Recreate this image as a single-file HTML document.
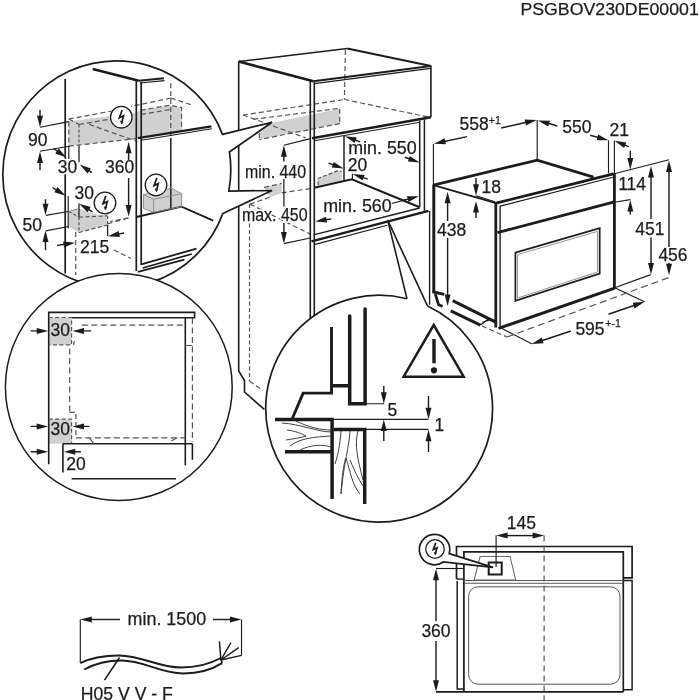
<!DOCTYPE html>
<html><head><meta charset="utf-8"><title>PSGBOV230DE00001</title>
<style>html,body{margin:0;padding:0;background:#fff}svg{display:block;filter:grayscale(1)}text{stroke:#1c1c1c;stroke-width:0.25px}</style>
</head><body>
<svg width="699" height="700" viewBox="0 0 699 700" font-family="'Liberation Sans', Arial, Helvetica, sans-serif" fill="#1c1c1c">
<rect width="699" height="700" fill="#fff"/>
<defs>
<clipPath id="clipA"><circle cx="116.4" cy="174" r="113"/></clipPath>
<clipPath id="clipB"><circle cx="118.8" cy="387" r="113"/></clipPath>
<clipPath id="clipC"><circle cx="379.3" cy="408.7" r="113"/></clipPath>
</defs>
<text x="520.4" y="14.8" font-size="16.9" text-anchor="start" textLength="178.4" lengthAdjust="spacingAndGlyphs" >PSGBOV230DE00001</text>
<g id="cabinet">
<polygon points="259.3,139.6 259.3,133.0 273.6,122.4 339.7,108.7 339.7,123.6" fill="#d0d0d0" stroke="none" stroke-width="1"/>
<polygon points="264.1,187.4 281.7,183.5 281.7,192.9 270.0,197.2" fill="#d0d0d0" stroke="none" stroke-width="1"/>
<polygon points="318.2,178.3 338.3,170.6 341.7,171.5 341.7,180.9 318.2,185.2" fill="#d0d0d0" stroke="none" stroke-width="1"/>
<line x1="243.0" y1="115.0" x2="344.5" y2="99.5" stroke="#555" stroke-width="1.2" stroke-linecap="butt" stroke-dasharray="5 3"/>
<line x1="243.0" y1="115.0" x2="305.7" y2="137.9" stroke="#555" stroke-width="1.2" stroke-linecap="butt" stroke-dasharray="5 3"/>
<line x1="253.3" y1="119.3" x2="339.7" y2="108.3" stroke="#555" stroke-width="1.2" stroke-linecap="butt" stroke-dasharray="5 3"/>
<line x1="339.7" y1="108.7" x2="339.7" y2="123.6" stroke="#555" stroke-width="1.2" stroke-linecap="butt" stroke-dasharray="5 3"/>
<line x1="339.7" y1="123.6" x2="259.3" y2="139.6" stroke="#555" stroke-width="1.2" stroke-linecap="butt" stroke-dasharray="5 3"/>
<line x1="259.3" y1="133.0" x2="259.3" y2="139.6" stroke="#555" stroke-width="1.2" stroke-linecap="butt" stroke-dasharray="5 3"/>
<line x1="345.4" y1="50.0" x2="344.4" y2="99.5" stroke="#555" stroke-width="1.2" stroke-linecap="butt" stroke-dasharray="5 3"/>
<line x1="344.5" y1="99.5" x2="429.0" y2="117.2" stroke="#555" stroke-width="1.2" stroke-linecap="butt" stroke-dasharray="5 3"/>
<line x1="281.7" y1="192.9" x2="310.3" y2="188.6" stroke="#555" stroke-width="1.2" stroke-linecap="butt" stroke-dasharray="5 3"/>
<line x1="249.9" y1="204.1" x2="310.3" y2="234.1" stroke="#555" stroke-width="1.2" stroke-linecap="butt" stroke-dasharray="5 3"/>
<line x1="249.9" y1="204.1" x2="270.0" y2="197.2" stroke="#555" stroke-width="1.2" stroke-linecap="butt" stroke-dasharray="5 3"/>
<line x1="264.1" y1="187.4" x2="281.7" y2="183.5" stroke="#555" stroke-width="1.2" stroke-linecap="butt" stroke-dasharray="5 3"/>
<line x1="249.5" y1="204.0" x2="249.5" y2="381.0" stroke="#555" stroke-width="1.2" stroke-linecap="butt" stroke-dasharray="4 2.5"/>
<line x1="249.5" y1="381.0" x2="262.8" y2="390.5" stroke="#555" stroke-width="1.2" stroke-linecap="butt" stroke-dasharray="5 3"/>
<path d="M318.2,185.2 V178.3 L338.3,170.6 L341.7,171.5" stroke="#555" stroke-width="1.2" fill="none" stroke-linejoin="miter" stroke-linecap="butt" stroke-dasharray="4 2"/>
<path d="M238.7,61.5 V371 L244.5,380.5 V392 L264.3,409.4" stroke="#1c1c1c" stroke-width="1.59" fill="none" stroke-linejoin="miter" stroke-linecap="butt"/>
<line x1="238.7" y1="61.5" x2="313.4" y2="81.2" stroke="#1c1c1c" stroke-width="2.6" stroke-linecap="butt"/>
<line x1="238.7" y1="61.5" x2="347.2" y2="48.4" stroke="#1c1c1c" stroke-width="1.48" stroke-linecap="butt"/>
<line x1="347.2" y1="48.4" x2="430.9" y2="66.0" stroke="#1c1c1c" stroke-width="2.0" stroke-linecap="butt"/>
<line x1="313.4" y1="81.2" x2="430.9" y2="66.0" stroke="#1c1c1c" stroke-width="2.0" stroke-linecap="butt"/>
<line x1="314.5" y1="83.6" x2="430.5" y2="68.4" stroke="#1c1c1c" stroke-width="1.15" stroke-linecap="butt"/>
<line x1="310.3" y1="80.5" x2="310.3" y2="330.0" stroke="#1c1c1c" stroke-width="1.59" stroke-linecap="butt"/>
<line x1="314.3" y1="82.0" x2="314.3" y2="330.0" stroke="#1c1c1c" stroke-width="1.59" stroke-linecap="butt"/>
<line x1="430.9" y1="65.5" x2="430.9" y2="117.2" stroke="#1c1c1c" stroke-width="1.59" stroke-linecap="butt"/>
<line x1="312.0" y1="138.2" x2="430.9" y2="117.2" stroke="#1c1c1c" stroke-width="2.4" stroke-linecap="butt"/>
<line x1="314.3" y1="140.8" x2="420.0" y2="122.2" stroke="#1c1c1c" stroke-width="1.15" stroke-linecap="butt"/>
<line x1="419.7" y1="120.5" x2="419.7" y2="207.2" stroke="#1c1c1c" stroke-width="1.48" stroke-linecap="butt"/>
<line x1="424.4" y1="119.5" x2="424.4" y2="211.0" stroke="#1c1c1c" stroke-width="1.48" stroke-linecap="butt"/>
<line x1="344.0" y1="135.8" x2="344.0" y2="180.2" stroke="#1c1c1c" stroke-width="1.48" stroke-linecap="butt"/>
<path d="M314.3,187.7 L351.8,179.3 L419.7,207.2" stroke="#1c1c1c" stroke-width="2.03" fill="none" stroke-linejoin="miter" stroke-linecap="butt"/>
<line x1="352.4" y1="173.7" x2="352.4" y2="179.3" stroke="#1c1c1c" stroke-width="1.15" stroke-linecap="butt"/>
<line x1="314.5" y1="234.6" x2="419.7" y2="208.0" stroke="#1c1c1c" stroke-width="1.48" stroke-linecap="butt"/>
<line x1="311.5" y1="241.4" x2="428.5" y2="210.9" stroke="#1c1c1c" stroke-width="2.4" stroke-linecap="butt"/>
<line x1="314.3" y1="244.6" x2="387.2" y2="225.2" stroke="#1c1c1c" stroke-width="1.15" stroke-linecap="butt"/>
<line x1="429.6" y1="211.0" x2="429.6" y2="304.8" stroke="#1c1c1c" stroke-width="1.37" stroke-linecap="butt"/>
<line x1="283.9" y1="145.2" x2="310.3" y2="138.6" stroke="#1c1c1c" stroke-width="1.15" stroke-linecap="butt"/>
<line x1="283.9" y1="243.6" x2="310.3" y2="238.0" stroke="#1c1c1c" stroke-width="1.15" stroke-linecap="butt"/>
<line x1="283.9" y1="161.5" x2="283.9" y2="155.7" stroke="#1c1c1c" stroke-width="1.43" stroke-linecap="butt"/>
<polygon points="283.9,145.2 286.9,156.7 280.9,156.7" fill="#1c1c1c" stroke="none" stroke-width="1"/>
<line x1="283.9" y1="179.0" x2="283.9" y2="206.6" stroke="#1c1c1c" stroke-width="1.26" stroke-linecap="butt"/>
<line x1="283.9" y1="223.0" x2="283.9" y2="233.1" stroke="#1c1c1c" stroke-width="1.43" stroke-linecap="butt"/>
<polygon points="283.9,243.6 280.9,232.1 286.9,232.1" fill="#1c1c1c" stroke="none" stroke-width="1"/>
<text x="245.0" y="177.5" font-size="17.5" text-anchor="start" textLength="61" lengthAdjust="spacingAndGlyphs" >min. 440</text>
<text x="242.0" y="220.7" font-size="17.5" text-anchor="start" textLength="65.5" lengthAdjust="spacingAndGlyphs" style="stroke:#fff;stroke-width:3.5px;stroke-linejoin:round" fill="#fff" >max. 450</text>
<text x="242.0" y="220.7" font-size="17.5" text-anchor="start" textLength="65.5" lengthAdjust="spacingAndGlyphs" >max. 450</text>
<text x="348.2" y="153.6" font-size="17.5" text-anchor="start" textLength="68.5" lengthAdjust="spacingAndGlyphs" >min. 550</text>
<text x="347.8" y="170.6" font-size="17.5" text-anchor="start" >20</text>
<text x="323.2" y="211.8" font-size="17.5" text-anchor="start" textLength="68.5" lengthAdjust="spacingAndGlyphs" style="stroke:#fff;stroke-width:3.5px;stroke-linejoin:round" fill="#fff" >min. 560</text>
<text x="323.2" y="211.8" font-size="17.5" text-anchor="start" textLength="68.5" lengthAdjust="spacingAndGlyphs" >min. 560</text>
<line x1="360.2" y1="141.9" x2="354.8" y2="139.9" stroke="#1c1c1c" stroke-width="1.43" stroke-linecap="butt"/>
<polygon points="345.0,136.2 356.8,137.4 354.7,143.0" fill="#1c1c1c" stroke="none" stroke-width="1"/>
<line x1="404.8" y1="157.3" x2="409.8" y2="159.0" stroke="#1c1c1c" stroke-width="1.43" stroke-linecap="butt"/>
<polygon points="419.7,162.5 407.9,161.5 409.8,155.9" fill="#1c1c1c" stroke="none" stroke-width="1"/>
<line x1="328.6" y1="163.2" x2="333.7" y2="165.0" stroke="#1c1c1c" stroke-width="1.43" stroke-linecap="butt"/>
<polygon points="343.6,168.6 331.8,167.5 333.8,161.9" fill="#1c1c1c" stroke="none" stroke-width="1"/>
<line x1="367.7" y1="179.2" x2="362.7" y2="177.4" stroke="#1c1c1c" stroke-width="1.43" stroke-linecap="butt"/>
<polygon points="352.8,173.9 364.6,174.9 362.6,180.6" fill="#1c1c1c" stroke="none" stroke-width="1"/>
<line x1="331.4" y1="218.9" x2="325.6" y2="219.8" stroke="#1c1c1c" stroke-width="1.43" stroke-linecap="butt"/>
<polygon points="315.2,221.5 326.1,216.7 327.0,222.6" fill="#1c1c1c" stroke="none" stroke-width="1"/>
<line x1="391.8" y1="203.5" x2="406.0" y2="199.6" stroke="#1c1c1c" stroke-width="1.15" stroke-linecap="butt"/>
<line x1="404.0" y1="200.2" x2="408.7" y2="198.9" stroke="#1c1c1c" stroke-width="1.43" stroke-linecap="butt"/>
<polygon points="418.8,196.2 408.5,202.1 406.9,196.3" fill="#1c1c1c" stroke="none" stroke-width="1"/>
<line x1="387.7" y1="220.2" x2="407.0" y2="298.7" stroke="#1c1c1c" stroke-width="1.59" stroke-linecap="butt"/>
<line x1="387.7" y1="220.2" x2="427.6" y2="306.1" stroke="#1c1c1c" stroke-width="1.59" stroke-linecap="butt"/>
</g>
<circle cx="116.4" cy="174" r="113.5" fill="#fff" stroke="none"/>
<g clip-path="url(#clipA)">
<polygon points="68.8,121.4 136.0,112.5 140.7,110.2 169.5,105.2 181.6,107.4 181.6,131.2 140.7,137.7 136.0,138.6 68.8,146.2" fill="#d0d0d0" stroke="none" stroke-width="1"/>
<polygon points="69.0,211.5 79.0,208.5 95.0,214.5 107.6,215.5 107.6,225.0 79.0,232.6 69.0,227.0" fill="#d0d0d0" stroke="none" stroke-width="1"/>
<polygon points="143.5,194.6 171.4,188.1 181.6,193.7 181.6,206.7 153.7,212.3 143.5,208.6" fill="#d0d0d0" stroke="none" stroke-width="1"/>
<line x1="68.8" y1="119.0" x2="112.0" y2="111.0" stroke="#555" stroke-width="1.2" stroke-linecap="butt" stroke-dasharray="5 3"/>
<line x1="79.0" y1="124.5" x2="111.0" y2="119.0" stroke="#555" stroke-width="1.2" stroke-linecap="butt" stroke-dasharray="5 3"/>
<line x1="89.2" y1="124.5" x2="136.0" y2="141.0" stroke="#555" stroke-width="1.2" stroke-linecap="butt" stroke-dasharray="5 3"/>
<line x1="68.8" y1="121.4" x2="68.8" y2="146.2" stroke="#555" stroke-width="1.2" stroke-linecap="butt" stroke-dasharray="5 3"/>
<line x1="68.8" y1="146.2" x2="136.0" y2="138.6" stroke="#555" stroke-width="1.2" stroke-linecap="butt" stroke-dasharray="5 3"/>
<line x1="68.8" y1="119.0" x2="79.0" y2="124.5" stroke="#555" stroke-width="1.2" stroke-linecap="butt" stroke-dasharray="5 3"/>
<line x1="170.8" y1="83.0" x2="170.8" y2="136.0" stroke="#555" stroke-width="1.2" stroke-linecap="butt" stroke-dasharray="5 3"/>
<line x1="170.8" y1="98.0" x2="193.7" y2="105.6" stroke="#555" stroke-width="1.2" stroke-linecap="butt" stroke-dasharray="5 3"/>
<line x1="170.8" y1="98.0" x2="131.0" y2="106.5" stroke="#555" stroke-width="1.2" stroke-linecap="butt" stroke-dasharray="5 3"/>
<path d="M140.7,110.2 L169.5,105.2 L181.6,107.4 V131.2" stroke="#555" stroke-width="1.2" fill="none" stroke-linejoin="miter" stroke-linecap="butt" stroke-dasharray="5 3"/>
<line x1="141.0" y1="114.5" x2="170.8" y2="109.5" stroke="#555" stroke-width="1.2" stroke-linecap="butt" stroke-dasharray="5 3"/>
<line x1="107.6" y1="223.8" x2="128.6" y2="218.0" stroke="#555" stroke-width="1.2" stroke-linecap="butt" stroke-dasharray="5 3"/>
<line x1="75.7" y1="232.0" x2="75.7" y2="275.0" stroke="#555" stroke-width="1.2" stroke-linecap="butt" stroke-dasharray="5 3"/>
<line x1="114.0" y1="250.0" x2="131.0" y2="258.5" stroke="#555" stroke-width="1.2" stroke-linecap="butt" stroke-dasharray="5 3"/>
<line x1="92.7" y1="69.1" x2="138.8" y2="80.8" stroke="#1c1c1c" stroke-width="2.6" stroke-linecap="butt"/>
<line x1="138.8" y1="80.8" x2="164.0" y2="78.2" stroke="#1c1c1c" stroke-width="2.0" stroke-linecap="butt"/>
<line x1="140.0" y1="83.0" x2="164.5" y2="80.6" stroke="#1c1c1c" stroke-width="1.15" stroke-linecap="butt"/>
<line x1="136.3" y1="80.5" x2="136.3" y2="271.0" stroke="#1c1c1c" stroke-width="1.7" stroke-linecap="butt"/>
<line x1="141.2" y1="82.0" x2="141.2" y2="265.0" stroke="#1c1c1c" stroke-width="1.7" stroke-linecap="butt"/>
<line x1="65.2" y1="78.9" x2="65.2" y2="273.4" stroke="#1c1c1c" stroke-width="1.7" stroke-linecap="butt"/>
<line x1="137.9" y1="138.1" x2="211.4" y2="126.4" stroke="#1c1c1c" stroke-width="2.4" stroke-linecap="butt"/>
<line x1="141.2" y1="140.3" x2="211.8" y2="128.8" stroke="#1c1c1c" stroke-width="1.15" stroke-linecap="butt"/>
<line x1="170.8" y1="138.0" x2="170.8" y2="209.5" stroke="#1c1c1c" stroke-width="1.48" stroke-linecap="butt"/>
<path d="M136.3,217 L181.6,206.7 L213.2,220.7" stroke="#1c1c1c" stroke-width="1.81" fill="none" stroke-linejoin="miter" stroke-linecap="butt"/>
<line x1="141.2" y1="264.4" x2="196.5" y2="248.6" stroke="#1c1c1c" stroke-width="1.81" stroke-linecap="butt"/>
<line x1="142.7" y1="268.0" x2="191.8" y2="254.0" stroke="#1c1c1c" stroke-width="1.81" stroke-linecap="butt"/>
<line x1="137.9" y1="271.8" x2="184.4" y2="259.7" stroke="#1c1c1c" stroke-width="1.81" stroke-linecap="butt"/>
<path d="M143.5,194.6 L153.7,199.3 L181.6,193.7 M153.7,199.3 V212.3 M143.5,194.6 V208.6 L153.7,212.3 L181.6,206.7 M143.5,194.6 L171.4,188.1 L181.6,193.7 V206.7" stroke="#8a8a8a" stroke-width="0.93" fill="none" stroke-linejoin="miter" stroke-linecap="butt"/>
<line x1="40.0" y1="127.3" x2="68.8" y2="121.6" stroke="#1c1c1c" stroke-width="1.15" stroke-linecap="butt"/>
<line x1="40.0" y1="151.3" x2="69.6" y2="146.2" stroke="#1c1c1c" stroke-width="1.15" stroke-linecap="butt"/>
<line x1="40.0" y1="110.0" x2="40.0" y2="116.8" stroke="#1c1c1c" stroke-width="1.43" stroke-linecap="butt"/>
<polygon points="40.0,127.3 37.0,115.8 43.0,115.8" fill="#1c1c1c" stroke="none" stroke-width="1"/>
<line x1="40.0" y1="170.0" x2="40.0" y2="162.0" stroke="#1c1c1c" stroke-width="1.43" stroke-linecap="butt"/>
<polygon points="40.0,151.5 43.0,163.0 37.0,163.0" fill="#1c1c1c" stroke="none" stroke-width="1"/>
<text x="28.0" y="145.8" font-size="17.5" text-anchor="start" >90</text>
<line x1="68.8" y1="146.2" x2="68.8" y2="159.0" stroke="#1c1c1c" stroke-width="1.15" stroke-linecap="butt"/>
<line x1="79.0" y1="124.5" x2="79.0" y2="146.0" stroke="#555" stroke-width="1.2" stroke-linecap="butt" stroke-dasharray="3 2"/>
<line x1="79.0" y1="146.0" x2="79.0" y2="162.3" stroke="#1c1c1c" stroke-width="1.26" stroke-linecap="butt"/>
<line x1="53.5" y1="148.5" x2="57.8" y2="151.5" stroke="#1c1c1c" stroke-width="1.43" stroke-linecap="butt"/>
<polygon points="66.4,157.6 55.3,153.4 58.7,148.5" fill="#1c1c1c" stroke="none" stroke-width="1"/>
<line x1="91.8" y1="172.6" x2="88.5" y2="170.4" stroke="#1c1c1c" stroke-width="1.43" stroke-linecap="butt"/>
<polygon points="79.7,164.6 90.9,168.4 87.6,173.4" fill="#1c1c1c" stroke="none" stroke-width="1"/>
<text x="57.8" y="173.4" font-size="17.5" text-anchor="start" style="stroke:#fff;stroke-width:3.5px;stroke-linejoin:round" fill="#fff" >30</text>
<text x="57.8" y="173.4" font-size="17.5" text-anchor="start" >30</text>
<line x1="128.6" y1="160.0" x2="128.6" y2="152.3" stroke="#1c1c1c" stroke-width="1.43" stroke-linecap="butt"/>
<polygon points="128.6,141.8 131.6,153.3 125.6,153.3" fill="#1c1c1c" stroke="none" stroke-width="1"/>
<line x1="128.6" y1="178.0" x2="128.6" y2="206.1" stroke="#1c1c1c" stroke-width="1.43" stroke-linecap="butt"/>
<polygon points="128.6,216.6 125.6,205.1 131.6,205.1" fill="#1c1c1c" stroke="none" stroke-width="1"/>
<text x="105.0" y="173.4" font-size="17.5" text-anchor="start" >360</text>
<line x1="128.6" y1="217.9" x2="110.0" y2="221.6" stroke="#555" stroke-width="1.2" stroke-linecap="butt" stroke-dasharray="5 3"/>
<line x1="68.2" y1="196.0" x2="68.2" y2="228.5" stroke="#1c1c1c" stroke-width="1.15" stroke-linecap="butt"/>
<line x1="79.0" y1="203.5" x2="79.0" y2="217.2" stroke="#1c1c1c" stroke-width="1.26" stroke-linecap="butt"/>
<line x1="79.0" y1="217.2" x2="79.0" y2="232.5" stroke="#555" stroke-width="1.2" stroke-linecap="butt" stroke-dasharray="3 2"/>
<line x1="79.0" y1="217.2" x2="107.6" y2="215.8" stroke="#555" stroke-width="1.2" stroke-linecap="butt" stroke-dasharray="4 2.5"/>
<line x1="79.0" y1="232.5" x2="107.6" y2="225.0" stroke="#555" stroke-width="1.2" stroke-linecap="butt" stroke-dasharray="4 2.5"/>
<line x1="69.0" y1="211.5" x2="79.0" y2="217.2" stroke="#555" stroke-width="1.2" stroke-linecap="butt" stroke-dasharray="3 2"/>
<line x1="69.0" y1="211.5" x2="79.0" y2="208.5" stroke="#888" stroke-width="0.93" stroke-linecap="butt"/>
<line x1="45.8" y1="215.4" x2="68.2" y2="211.5" stroke="#1c1c1c" stroke-width="1.26" stroke-linecap="butt"/>
<line x1="45.8" y1="230.9" x2="68.2" y2="226.5" stroke="#1c1c1c" stroke-width="1.26" stroke-linecap="butt"/>
<line x1="45.5" y1="199.3" x2="45.5" y2="204.7" stroke="#1c1c1c" stroke-width="1.43" stroke-linecap="butt"/>
<polygon points="45.5,215.2 42.5,203.7 48.5,203.7" fill="#1c1c1c" stroke="none" stroke-width="1"/>
<line x1="45.5" y1="250.2" x2="45.5" y2="241.0" stroke="#1c1c1c" stroke-width="1.43" stroke-linecap="butt"/>
<polygon points="45.5,230.5 48.5,242.0 42.5,242.0" fill="#1c1c1c" stroke="none" stroke-width="1"/>
<text x="22.6" y="230.8" font-size="17.5" text-anchor="start" >50</text>
<line x1="52.5" y1="187.5" x2="56.7" y2="190.2" stroke="#1c1c1c" stroke-width="1.43" stroke-linecap="butt"/>
<polygon points="65.6,195.8 54.3,192.2 57.5,187.1" fill="#1c1c1c" stroke="none" stroke-width="1"/>
<line x1="92.5" y1="211.8" x2="88.2" y2="209.2" stroke="#1c1c1c" stroke-width="1.43" stroke-linecap="butt"/>
<polygon points="79.2,203.7 90.6,207.1 87.5,212.2" fill="#1c1c1c" stroke="none" stroke-width="1"/>
<text x="74.6" y="198.6" font-size="17.5" text-anchor="start" >30</text>
<line x1="107.6" y1="216.0" x2="107.6" y2="225.0" stroke="#555" stroke-width="1.2" stroke-linecap="butt" stroke-dasharray="3 2"/>
<line x1="107.6" y1="225.0" x2="107.6" y2="236.0" stroke="#1c1c1c" stroke-width="1.26" stroke-linecap="butt"/>
<line x1="57.0" y1="245.4" x2="64.6" y2="244.3" stroke="#1c1c1c" stroke-width="1.43" stroke-linecap="butt"/>
<polygon points="75.0,242.8 64.0,247.4 63.2,241.5" fill="#1c1c1c" stroke="none" stroke-width="1"/>
<line x1="124.0" y1="233.0" x2="118.3" y2="234.1" stroke="#1c1c1c" stroke-width="1.43" stroke-linecap="butt"/>
<polygon points="108.0,236.2 118.7,231.0 119.9,236.9" fill="#1c1c1c" stroke="none" stroke-width="1"/>
<text x="80.0" y="253.2" font-size="17.5" text-anchor="start" >215</text>
<circle cx="121.3" cy="117.2" r="11.700000000000001" fill="#fff" stroke="none"/>
<circle cx="121.3" cy="117.2" r="10.8" fill="#fff" stroke="#1c1c1c" stroke-width="1.3"/>
<path d="M122.19,110.07 L119.32,117.79 L123.58,115.81 L121.70,123.14" stroke="#1c1c1c" stroke-width="1.7" fill="none" stroke-linejoin="miter" stroke-linecap="butt"/>
<polygon points="121.6,124.7 120.0,120.8 123.3,121.2" fill="#1c1c1c" stroke="none" stroke-width="1"/>
<circle cx="105" cy="203" r="11.700000000000001" fill="#fff" stroke="none"/>
<circle cx="105" cy="203" r="10.8" fill="#fff" stroke="#1c1c1c" stroke-width="1.3"/>
<path d="M105.89,195.87 L103.02,203.59 L107.28,201.61 L105.40,208.94" stroke="#1c1c1c" stroke-width="1.7" fill="none" stroke-linejoin="miter" stroke-linecap="butt"/>
<polygon points="105.3,210.5 103.7,206.6 107.0,207.0" fill="#1c1c1c" stroke="none" stroke-width="1"/>
<circle cx="156" cy="185" r="11.700000000000001" fill="#fff" stroke="none"/>
<circle cx="156" cy="185" r="10.8" fill="#fff" stroke="#1c1c1c" stroke-width="1.3"/>
<path d="M156.89,177.87 L154.02,185.59 L158.28,183.61 L156.40,190.94" stroke="#1c1c1c" stroke-width="1.7" fill="none" stroke-linejoin="miter" stroke-linecap="butt"/>
<polygon points="156.3,192.5 154.7,188.6 158.0,189.0" fill="#1c1c1c" stroke="none" stroke-width="1"/>
</g>
<path d="M222.5,134.4 L272.1,122.3 L229.4,152 Q232.5,171.6 228.8,191.1 L272.1,190.5 L222.9,213.4 Z" fill="#fff" stroke="none"/>
<path d="M222.9,213.4 A113.5,113.5 0 1 1 222.5,134.4 L272.1,122.3 L229.4,152 Q232.5,171.6 228.8,191.1 L272.1,190.5 L222.9,213.4" stroke="#1c1c1c" stroke-width="1.7" fill="none" stroke-linejoin="miter" stroke-linecap="butt"/>
<circle cx="118.8" cy="387" r="113.4" fill="#fff" stroke="#1c1c1c" stroke-width="1.5"/>
<g clip-path="url(#clipB)">
<rect x="48.7" y="317.5" width="22.9" height="27.4" fill="#d0d0d0"/>
<rect x="48.7" y="419.2" width="22.9" height="24.5" fill="#d0d0d0"/>
<path d="M48.7,464.2 V312.4 H194.6 V317.8 H71.6" stroke="#1c1c1c" stroke-width="1.59" fill="none" stroke-linejoin="miter" stroke-linecap="butt"/>
<line x1="185.3" y1="317.8" x2="185.3" y2="465.3" stroke="#1c1c1c" stroke-width="1.59" stroke-linecap="butt"/>
<line x1="62.9" y1="443.8" x2="192.4" y2="443.8" stroke="#1c1c1c" stroke-width="1.59" stroke-linecap="butt"/>
<line x1="62.9" y1="443.8" x2="62.9" y2="472.5" stroke="#1c1c1c" stroke-width="1.59" stroke-linecap="butt"/>
<line x1="192.4" y1="443.8" x2="192.4" y2="459.7" stroke="#1c1c1c" stroke-width="1.59" stroke-linecap="butt"/>
<line x1="71.6" y1="478.8" x2="176.0" y2="478.8" stroke="#1c1c1c" stroke-width="1.59" stroke-linecap="butt"/>
<path d="M48.7,317.5 H71.6 V344.9 H48.7" stroke="#555" stroke-width="1.2" fill="none" stroke-linejoin="miter" stroke-linecap="butt" stroke-dasharray="4 2.5"/>
<path d="M48.7,419.2 H71.6 V443.7" stroke="#555" stroke-width="1.2" fill="none" stroke-linejoin="miter" stroke-linecap="butt" stroke-dasharray="4 2.5"/>
<line x1="81.8" y1="325.1" x2="185.3" y2="325.1" stroke="#555" stroke-width="1.2" stroke-linecap="butt" stroke-dasharray="6 3.5"/>
<line x1="69.7" y1="348.6" x2="69.7" y2="412.3" stroke="#555" stroke-width="1.2" stroke-linecap="butt" stroke-dasharray="6 3.5"/>
<path d="M69.7,412.3 H75.9 V437.8" stroke="#555" stroke-width="1.2" fill="none" stroke-linejoin="miter" stroke-linecap="butt" stroke-dasharray="5 3"/>
<line x1="75.9" y1="437.8" x2="185.3" y2="437.8" stroke="#555" stroke-width="1.2" stroke-linecap="butt" stroke-dasharray="6 3.5"/>
<line x1="192.4" y1="318.0" x2="192.4" y2="442.0" stroke="#555" stroke-width="1.2" stroke-linecap="butt" stroke-dasharray="6 3.5"/>
<line x1="185.3" y1="345.5" x2="192.4" y2="345.5" stroke="#555" stroke-width="1.15" stroke-linecap="butt"/>
<line x1="74.4" y1="341.0" x2="73.5" y2="344.9" stroke="#555" stroke-width="1.15" stroke-linecap="butt"/>
<line x1="89.3" y1="437.8" x2="93.9" y2="443.7" stroke="#555" stroke-width="1.15" stroke-linecap="butt"/>
<line x1="171.4" y1="441.0" x2="177.0" y2="437.8" stroke="#555" stroke-width="1.15" stroke-linecap="butt"/>
<line x1="30.7" y1="330.9" x2="37.7" y2="330.9" stroke="#1c1c1c" stroke-width="1.43" stroke-linecap="butt"/>
<polygon points="48.2,330.9 36.7,333.9 36.7,327.9" fill="#1c1c1c" stroke="none" stroke-width="1"/>
<line x1="91.1" y1="330.9" x2="83.0" y2="330.9" stroke="#1c1c1c" stroke-width="1.43" stroke-linecap="butt"/>
<polygon points="72.5,330.9 84.0,327.9 84.0,333.9" fill="#1c1c1c" stroke="none" stroke-width="1"/>
<text x="50.6" y="336.2" font-size="17.5" text-anchor="start" >30</text>
<line x1="30.7" y1="426.4" x2="37.7" y2="426.4" stroke="#1c1c1c" stroke-width="1.43" stroke-linecap="butt"/>
<polygon points="48.2,426.4 36.7,429.4 36.7,423.4" fill="#1c1c1c" stroke="none" stroke-width="1"/>
<line x1="89.3" y1="426.4" x2="83.0" y2="426.4" stroke="#1c1c1c" stroke-width="1.43" stroke-linecap="butt"/>
<polygon points="72.5,426.4 84.0,423.4 84.0,429.4" fill="#1c1c1c" stroke="none" stroke-width="1"/>
<text x="50.6" y="435.1" font-size="17.5" text-anchor="start" >30</text>
<line x1="30.7" y1="451.7" x2="37.7" y2="451.7" stroke="#1c1c1c" stroke-width="1.43" stroke-linecap="butt"/>
<polygon points="48.2,451.7 36.7,454.7 36.7,448.7" fill="#1c1c1c" stroke="none" stroke-width="1"/>
<line x1="80.9" y1="451.7" x2="74.3" y2="451.7" stroke="#1c1c1c" stroke-width="1.43" stroke-linecap="butt"/>
<polygon points="63.8,451.7 75.3,448.7 75.3,454.7" fill="#1c1c1c" stroke="none" stroke-width="1"/>
<text x="66.3" y="469.8" font-size="17.5" text-anchor="start" >20</text>
</g>
<circle cx="379.3" cy="408.7" r="113.4" fill="#fff" stroke="none"/>
<path d="M427.6,306.1 A113.4,113.4 0 1 1 407.0,298.7" stroke="#1c1c1c" stroke-width="1.7" fill="none" stroke-linejoin="miter" stroke-linecap="butt"/>
<g clip-path="url(#clipC)">
<path d="M282,423 C300,424 318,432 331,432" stroke="#333" stroke-width="0.93" fill="none" stroke-linejoin="miter" stroke-linecap="butt"/>
<path d="M287,430 C296,431 302,434 306,436 C300,438 292,439 286,440" stroke="#333" stroke-width="0.93" fill="none" stroke-linejoin="miter" stroke-linecap="butt"/>
<path d="M290,446 C300,438 315,437 331,436" stroke="#333" stroke-width="0.93" fill="none" stroke-linejoin="miter" stroke-linecap="butt"/>
<path d="M300,450 C310,445 322,444 331,447" stroke="#333" stroke-width="0.93" fill="none" stroke-linejoin="miter" stroke-linecap="butt"/>
<path d="M296,421 C310,428 322,430 331,430" stroke="#333" stroke-width="0.93" fill="none" stroke-linejoin="miter" stroke-linecap="butt"/>
<path d="M341,431 C340,445 338,455 335,464" stroke="#333" stroke-width="0.93" fill="none" stroke-linejoin="miter" stroke-linecap="butt"/>
<path d="M350,431 C349,447 344,462 341,494" stroke="#333" stroke-width="0.93" fill="none" stroke-linejoin="miter" stroke-linecap="butt"/>
<path d="M341,494 C342,475 344,462 346,458 C350,470 352,485 360,494" stroke="#333" stroke-width="0.93" fill="none" stroke-linejoin="miter" stroke-linecap="butt"/>
<path d="M358,431 C354,445 358,460 363,480" stroke="#333" stroke-width="0.93" fill="none" stroke-linejoin="miter" stroke-linecap="butt"/>
<path d="M350,460 C354,470 358,478 363,486" stroke="#333" stroke-width="0.93" fill="none" stroke-linejoin="miter" stroke-linecap="butt"/>
<path d="M331.5,327 V393.1 H303.1 L292,419.2" stroke="#1c1c1c" stroke-width="2.9" fill="none" stroke-linejoin="miter" stroke-linecap="butt"/>
<line x1="331.5" y1="385.7" x2="349.7" y2="385.7" stroke="#1c1c1c" stroke-width="3.5" stroke-linecap="butt"/>
<path d="M349.7,316 V403.7 H365.1 V309" stroke="#1c1c1c" stroke-width="3.5" fill="none" stroke-linejoin="miter" stroke-linecap="round"/>
<path d="M275,419.5 H332.1 V499" stroke="#1c1c1c" stroke-width="3.5" fill="none" stroke-linejoin="miter" stroke-linecap="butt"/>
<line x1="285.0" y1="451.7" x2="332.1" y2="451.7" stroke="#1c1c1c" stroke-width="3.5" stroke-linecap="butt"/>
<path d="M333.6,429.6 H364.7 V504" stroke="#1c1c1c" stroke-width="3.5" fill="none" stroke-linejoin="miter" stroke-linecap="butt"/>
<line x1="365.1" y1="403.7" x2="384.2" y2="403.7" stroke="#1c1c1c" stroke-width="1.15" stroke-linecap="butt"/>
<line x1="332.0" y1="419.4" x2="428.5" y2="419.4" stroke="#1c1c1c" stroke-width="1.15" stroke-linecap="butt"/>
<line x1="365.0" y1="429.4" x2="428.5" y2="429.4" stroke="#1c1c1c" stroke-width="1.15" stroke-linecap="butt"/>
<line x1="383.8" y1="386.0" x2="383.8" y2="393.2" stroke="#1c1c1c" stroke-width="1.43" stroke-linecap="butt"/>
<polygon points="383.8,403.7 380.8,392.2 386.8,392.2" fill="#1c1c1c" stroke="none" stroke-width="1"/>
<line x1="383.8" y1="441.0" x2="383.8" y2="430.1" stroke="#1c1c1c" stroke-width="1.43" stroke-linecap="butt"/>
<polygon points="383.8,419.6 386.8,431.1 380.8,431.1" fill="#1c1c1c" stroke="none" stroke-width="1"/>
<line x1="428.5" y1="396.0" x2="428.5" y2="408.7" stroke="#1c1c1c" stroke-width="1.43" stroke-linecap="butt"/>
<polygon points="428.5,419.2 425.5,407.7 431.5,407.7" fill="#1c1c1c" stroke="none" stroke-width="1"/>
<line x1="428.5" y1="452.0" x2="428.5" y2="440.3" stroke="#1c1c1c" stroke-width="1.43" stroke-linecap="butt"/>
<polygon points="428.5,429.8 431.5,441.3 425.5,441.3" fill="#1c1c1c" stroke="none" stroke-width="1"/>
<text x="387.6" y="415.6" font-size="17.5" text-anchor="start" >5</text>
<text x="434.6" y="431.3" font-size="17.5" text-anchor="start" >1</text>
<path d="M433.7,325 L463.7,376.7 H403.6 Z" stroke="#1c1c1c" stroke-width="2.5" fill="none" stroke-linejoin="miter" stroke-linecap="butt"/>
<line x1="434.0" y1="339.0" x2="434.0" y2="363.3" stroke="#1c1c1c" stroke-width="3.4" stroke-linecap="butt"/>
<circle cx="434" cy="370.3" r="3.1" fill="#1c1c1c"/>
</g>
<g id="oven">
<line x1="433.4" y1="144.0" x2="433.4" y2="185.0" stroke="#1c1c1c" stroke-width="1.15" stroke-linecap="butt"/>
<line x1="537.2" y1="120.0" x2="537.2" y2="160.5" stroke="#1c1c1c" stroke-width="1.15" stroke-linecap="butt"/>
<line x1="608.5" y1="140.3" x2="608.5" y2="173.5" stroke="#1c1c1c" stroke-width="1.15" stroke-linecap="butt"/>
<line x1="614.4" y1="140.8" x2="614.4" y2="174.0" stroke="#1c1c1c" stroke-width="1.15" stroke-linecap="butt"/>
<line x1="614.4" y1="173.8" x2="668.9" y2="159.8" stroke="#1c1c1c" stroke-width="1.15" stroke-linecap="butt"/>
<line x1="614.4" y1="202.2" x2="630.3" y2="199.6" stroke="#1c1c1c" stroke-width="1.15" stroke-linecap="butt"/>
<line x1="614.7" y1="287.7" x2="650.7" y2="274.6" stroke="#1c1c1c" stroke-width="1.15" stroke-linecap="butt"/>
<line x1="614.7" y1="287.7" x2="644.5" y2="301.8" stroke="#1c1c1c" stroke-width="1.15" stroke-linecap="butt"/>
<line x1="501.0" y1="328.0" x2="532.1" y2="344.1" stroke="#1c1c1c" stroke-width="1.15" stroke-linecap="butt"/>
<line x1="507.0" y1="337.0" x2="668.6" y2="277.6" stroke="#555" stroke-width="1.2" stroke-linecap="butt" stroke-dasharray="7 4"/>
<line x1="482.0" y1="326.0" x2="507.0" y2="337.0" stroke="#555" stroke-width="1.2" stroke-linecap="butt" stroke-dasharray="5 3"/>
<path d="M433.4,185.1 L537.2,160.1 L593.5,177.1" stroke="#1c1c1c" stroke-width="2.7" fill="none" stroke-linejoin="miter" stroke-linecap="butt"/>
<line x1="433.4" y1="185.1" x2="496.1" y2="203.1" stroke="#1c1c1c" stroke-width="1.81" stroke-linecap="butt"/>
<line x1="496.1" y1="203.1" x2="613.5" y2="173.8" stroke="#1c1c1c" stroke-width="2.8" stroke-linecap="butt"/>
<line x1="500.0" y1="206.1" x2="613.0" y2="177.2" stroke="#1c1c1c" stroke-width="1.15" stroke-linecap="butt"/>
<line x1="433.8" y1="184.5" x2="433.8" y2="292.0" stroke="#1c1c1c" stroke-width="3.0" stroke-linecap="butt"/>
<line x1="495.8" y1="202.5" x2="495.8" y2="327.5" stroke="#1c1c1c" stroke-width="2.8" stroke-linecap="butt"/>
<line x1="500.1" y1="206.0" x2="500.1" y2="327.5" stroke="#1c1c1c" stroke-width="1.37" stroke-linecap="butt"/>
<line x1="614.4" y1="173.0" x2="614.4" y2="288.5" stroke="#1c1c1c" stroke-width="2.8" stroke-linecap="butt"/>
<line x1="497.5" y1="232.6" x2="614.4" y2="201.8" stroke="#1c1c1c" stroke-width="2.8" stroke-linecap="butt"/>
<line x1="498.5" y1="328.4" x2="614.7" y2="288.1" stroke="#1c1c1c" stroke-width="3.0" stroke-linecap="butt"/>
<path d="M515.4,252.6 L599.7,228.2 V273.6 L515.4,300.9 Z" stroke="#1c1c1c" stroke-width="1.7" fill="none" stroke-linejoin="miter" stroke-linecap="butt"/>
<path d="M517.6,254.6 L597.5,231.4 V272 L517.6,298 Z" stroke="#8a8a8a" stroke-width="0.93" fill="none" stroke-linejoin="miter" stroke-linecap="butt"/>
<line x1="432.4" y1="291.8" x2="444.3" y2="294.4" stroke="#1c1c1c" stroke-width="3.0" stroke-linecap="butt"/>
<line x1="452.7" y1="300.6" x2="495.2" y2="321.8" stroke="#1c1c1c" stroke-width="3.0" stroke-linecap="butt"/>
<line x1="450.8" y1="310.9" x2="480.4" y2="325.1" stroke="#1c1c1c" stroke-width="3.0" stroke-linecap="butt"/>
<path d="M480.4,325.1 L488.1,319.3 M482.3,322.5 L489.4,319.9" stroke="#1c1c1c" stroke-width="1.26" fill="none" stroke-linejoin="miter" stroke-linecap="butt"/>
<path d="M435.3,294.2 L438.5,304.5 L442.6,306.4" stroke="#1c1c1c" stroke-width="2.8" fill="none" stroke-linejoin="miter" stroke-linecap="butt"/>
<line x1="467.0" y1="136.6" x2="444.3" y2="141.5" stroke="#1c1c1c" stroke-width="1.43" stroke-linecap="butt"/>
<polygon points="434.0,143.7 444.6,138.3 445.9,144.2" fill="#1c1c1c" stroke="none" stroke-width="1"/>
<line x1="501.1" y1="128.0" x2="526.4" y2="122.3" stroke="#1c1c1c" stroke-width="1.43" stroke-linecap="butt"/>
<polygon points="536.6,120.0 526.0,125.5 524.7,119.6" fill="#1c1c1c" stroke="none" stroke-width="1"/>
<text x="459.6" y="130.2" font-size="17.5" text-anchor="start" >558</text>
<text x="488.8" y="124.2" font-size="10.5" text-anchor="start" >+1</text>
<line x1="557.2" y1="126.0" x2="548.1" y2="123.3" stroke="#1c1c1c" stroke-width="1.43" stroke-linecap="butt"/>
<polygon points="538.0,120.4 549.9,120.7 548.2,126.5" fill="#1c1c1c" stroke="none" stroke-width="1"/>
<text x="562.2" y="132.6" font-size="17.5" text-anchor="start" >550</text>
<line x1="590.2" y1="135.3" x2="598.4" y2="137.5" stroke="#1c1c1c" stroke-width="1.43" stroke-linecap="butt"/>
<polygon points="608.5,140.3 596.6,140.2 598.2,134.4" fill="#1c1c1c" stroke="none" stroke-width="1"/>
<line x1="628.7" y1="146.7" x2="624.3" y2="144.9" stroke="#1c1c1c" stroke-width="1.43" stroke-linecap="butt"/>
<polygon points="614.6,140.8 626.4,142.5 624.1,148.0" fill="#1c1c1c" stroke="none" stroke-width="1"/>
<text x="609.6" y="135.8" font-size="17.5" text-anchor="start" >21</text>
<line x1="476.0" y1="178.0" x2="476.0" y2="185.2" stroke="#1c1c1c" stroke-width="1.43" stroke-linecap="butt"/>
<polygon points="476.0,195.7 473.0,184.2 479.0,184.2" fill="#1c1c1c" stroke="none" stroke-width="1"/>
<line x1="476.0" y1="218.0" x2="476.0" y2="211.5" stroke="#1c1c1c" stroke-width="1.43" stroke-linecap="butt"/>
<polygon points="476.0,201.0 479.0,212.5 473.0,212.5" fill="#1c1c1c" stroke="none" stroke-width="1"/>
<line x1="476.0" y1="195.7" x2="495.0" y2="201.7" stroke="#1c1c1c" stroke-width="1.15" stroke-linecap="butt"/>
<text x="481.6" y="193.2" font-size="17.5" text-anchor="start" >18</text>
<line x1="447.6" y1="221.0" x2="447.6" y2="202.2" stroke="#1c1c1c" stroke-width="1.43" stroke-linecap="butt"/>
<polygon points="447.6,191.7 450.6,203.2 444.6,203.2" fill="#1c1c1c" stroke="none" stroke-width="1"/>
<line x1="447.6" y1="238.0" x2="447.6" y2="295.6" stroke="#1c1c1c" stroke-width="1.43" stroke-linecap="butt"/>
<polygon points="447.6,306.1 444.6,294.6 450.6,294.6" fill="#1c1c1c" stroke="none" stroke-width="1"/>
<text x="437.0" y="235.5" font-size="17.5" text-anchor="start" >438</text>
<line x1="630.3" y1="150.7" x2="630.3" y2="159.1" stroke="#1c1c1c" stroke-width="1.43" stroke-linecap="butt"/>
<polygon points="630.3,169.6 627.3,158.1 633.3,158.1" fill="#1c1c1c" stroke="none" stroke-width="1"/>
<line x1="630.3" y1="214.6" x2="630.3" y2="210.5" stroke="#1c1c1c" stroke-width="1.43" stroke-linecap="butt"/>
<polygon points="630.3,200.0 633.3,211.5 627.3,211.5" fill="#1c1c1c" stroke="none" stroke-width="1"/>
<text x="618.2" y="190.4" font-size="17.5" text-anchor="start" >114</text>
<line x1="651.0" y1="219.0" x2="651.0" y2="176.6" stroke="#1c1c1c" stroke-width="1.43" stroke-linecap="butt"/>
<polygon points="651.0,166.1 654.0,177.6 648.0,177.6" fill="#1c1c1c" stroke="none" stroke-width="1"/>
<line x1="651.0" y1="237.5" x2="651.0" y2="264.1" stroke="#1c1c1c" stroke-width="1.43" stroke-linecap="butt"/>
<polygon points="651.0,274.6 648.0,263.1 654.0,263.1" fill="#1c1c1c" stroke="none" stroke-width="1"/>
<text x="635.2" y="234.7" font-size="17.5" text-anchor="start" >451</text>
<line x1="669.0" y1="247.0" x2="669.0" y2="171.1" stroke="#1c1c1c" stroke-width="1.43" stroke-linecap="butt"/>
<polygon points="669.0,160.6 672.0,172.1 666.0,172.1" fill="#1c1c1c" stroke="none" stroke-width="1"/>
<line x1="669.0" y1="262.7" x2="669.0" y2="264.7" stroke="#1c1c1c" stroke-width="1.43" stroke-linecap="butt"/>
<polygon points="669.0,275.2 666.0,263.7 672.0,263.7" fill="#1c1c1c" stroke="none" stroke-width="1"/>
<text x="658.4" y="261.2" font-size="17.5" text-anchor="start" >456</text>
<line x1="570.9" y1="331.0" x2="541.7" y2="340.8" stroke="#1c1c1c" stroke-width="1.43" stroke-linecap="butt"/>
<polygon points="531.7,344.1 541.7,337.6 543.6,343.3" fill="#1c1c1c" stroke="none" stroke-width="1"/>
<line x1="608.5" y1="314.3" x2="634.6" y2="305.2" stroke="#1c1c1c" stroke-width="1.43" stroke-linecap="butt"/>
<polygon points="644.5,301.8 634.6,308.4 632.7,302.7" fill="#1c1c1c" stroke="none" stroke-width="1"/>
<text x="575.4" y="335.4" font-size="17.5" text-anchor="start" >595</text>
<text x="605.3" y="326.6" font-size="10.5" text-anchor="start" >+-1</text>
</g>
<g id="topview">
<path d="M456.5,579.1 V546.5 H632.1 V577.9 H623.3" stroke="#1c1c1c" stroke-width="1.7" fill="none" stroke-linejoin="miter" stroke-linecap="butt"/>
<path d="M463.9,692 V551.9 H623.3 V692" stroke="#1c1c1c" stroke-width="1.7" fill="none" stroke-linejoin="miter" stroke-linecap="butt"/>
<path d="M456.5,579.1 H464" stroke="#1c1c1c" stroke-width="1.37" fill="none" stroke-linejoin="miter" stroke-linecap="butt"/>
<path d="M457.2,581 V689.1 H464" stroke="#1c1c1c" stroke-width="1.48" fill="none" stroke-linejoin="miter" stroke-linecap="butt"/>
<path d="M623.3,580.4 H632.1 V689.7 H623.3" stroke="#1c1c1c" stroke-width="1.48" fill="none" stroke-linejoin="miter" stroke-linecap="butt"/>
<line x1="436.0" y1="691.9" x2="623.3" y2="691.9" stroke="#1c1c1c" stroke-width="1.7" stroke-linecap="butt"/>
<line x1="464.0" y1="580.5" x2="623.3" y2="580.5" stroke="#555" stroke-width="1.04" stroke-linecap="butt"/>
<line x1="464.0" y1="583.2" x2="623.3" y2="583.2" stroke="#555" stroke-width="1.04" stroke-linecap="butt"/>
<rect x="468.6" y="586.8" width="151.4" height="97.4" rx="9.5" fill="none" stroke="#555" stroke-width="1"/>
<path d="M480.1,556.5 H510.1 L515.7,580.1 H474.1 Z" stroke="#666" stroke-width="1.04" fill="none" stroke-linejoin="miter" stroke-linecap="butt"/>
<rect x="488.7" y="562.5" width="13" height="12" fill="none" stroke="#1c1c1c" stroke-width="2"/>
<line x1="496.1" y1="535.6" x2="496.1" y2="567.1" stroke="#1c1c1c" stroke-width="1.15" stroke-linecap="butt"/>
<line x1="544.1" y1="535.6" x2="544.1" y2="700.0" stroke="#555" stroke-width="1.2" stroke-linecap="butt" stroke-dasharray="6 4"/>
<line x1="520.0" y1="535.6" x2="506.6" y2="535.6" stroke="#1c1c1c" stroke-width="1.43" stroke-linecap="butt"/>
<polygon points="496.1,535.6 507.6,532.6 507.6,538.6" fill="#1c1c1c" stroke="none" stroke-width="1"/>
<line x1="520.0" y1="535.6" x2="533.6" y2="535.6" stroke="#1c1c1c" stroke-width="1.43" stroke-linecap="butt"/>
<polygon points="544.1,535.6 532.6,538.6 532.6,532.6" fill="#1c1c1c" stroke="none" stroke-width="1"/>
<text x="506.8" y="529.2" font-size="17.5" text-anchor="start" >145</text>
<path d="M449.2,553.6 L493.1,567.4 L443.2,562.0 A15.2,15.2 0 1 1 449.2,553.6 Z" stroke="#1c1c1c" stroke-width="1.7" fill="#fff" stroke-linejoin="miter" stroke-linecap="butt"/>
<circle cx="435" cy="549" r="10.200000000000001" fill="#fff" stroke="none"/>
<circle cx="435" cy="549" r="9.3" fill="#fff" stroke="#1c1c1c" stroke-width="1.3"/>
<path d="M435.77,542.86 L433.29,549.51 L436.96,547.81 L435.34,554.12" stroke="#1c1c1c" stroke-width="1.7" fill="none" stroke-linejoin="miter" stroke-linecap="butt"/>
<polygon points="435.3,555.5 433.9,552.1 436.7,552.4" fill="#1c1c1c" stroke="none" stroke-width="1"/>
<line x1="436.0" y1="568.5" x2="464.0" y2="568.5" stroke="#1c1c1c" stroke-width="1.15" stroke-linecap="butt"/>
<line x1="436.0" y1="621.0" x2="436.0" y2="579.2" stroke="#1c1c1c" stroke-width="1.43" stroke-linecap="butt"/>
<polygon points="436.0,568.7 439.0,580.2 433.0,580.2" fill="#1c1c1c" stroke="none" stroke-width="1"/>
<line x1="436.0" y1="641.0" x2="436.0" y2="681.2" stroke="#1c1c1c" stroke-width="1.43" stroke-linecap="butt"/>
<polygon points="436.0,691.7 433.0,680.2 439.0,680.2" fill="#1c1c1c" stroke="none" stroke-width="1"/>
<text x="421.4" y="637.4" font-size="17.5" text-anchor="start" >360</text>
</g>
<g id="cable">
<line x1="80.3" y1="619.5" x2="80.3" y2="663.0" stroke="#1c1c1c" stroke-width="1.15" stroke-linecap="butt"/>
<line x1="241.5" y1="619.5" x2="241.5" y2="655.6" stroke="#1c1c1c" stroke-width="1.15" stroke-linecap="butt"/>
<line x1="120.0" y1="619.5" x2="90.8" y2="619.5" stroke="#1c1c1c" stroke-width="1.43" stroke-linecap="butt"/>
<polygon points="80.3,619.5 91.8,616.5 91.8,622.5" fill="#1c1c1c" stroke="none" stroke-width="1"/>
<line x1="213.0" y1="619.5" x2="231.0" y2="619.5" stroke="#1c1c1c" stroke-width="1.43" stroke-linecap="butt"/>
<polygon points="241.5,619.5 230.0,622.5 230.0,616.5" fill="#1c1c1c" stroke="none" stroke-width="1"/>
<text x="127.6" y="625.0" font-size="17.5" text-anchor="start" textLength="78.5" lengthAdjust="spacingAndGlyphs" >min. 1500</text>
<path d="M80.3,663.1 C92,657 105,655.4 119,655.4 C142,655.4 158,667.5 180.7,667.5 C197,667.5 210,664 220.7,658" stroke="#1c1c1c" stroke-width="2.0" fill="none" stroke-linejoin="miter" stroke-linecap="butt"/>
<path d="M84.2,669.5 C95,663.5 108,660.5 121.5,660.5 C144,660.5 160,673.4 183.3,673.4 C199,673.4 212,669.5 222,663.1" stroke="#1c1c1c" stroke-width="2.0" fill="none" stroke-linejoin="miter" stroke-linecap="butt"/>
<line x1="220.7" y1="658.0" x2="222.0" y2="663.1" stroke="#1c1c1c" stroke-width="1.7" stroke-linecap="butt"/>
<line x1="220.9" y1="660.0" x2="219.4" y2="641.2" stroke="#1c1c1c" stroke-width="1.48" stroke-linecap="butt"/>
<line x1="220.9" y1="660.0" x2="231.0" y2="642.5" stroke="#1c1c1c" stroke-width="1.48" stroke-linecap="butt"/>
<line x1="220.9" y1="660.0" x2="238.7" y2="647.6" stroke="#1c1c1c" stroke-width="1.48" stroke-linecap="butt"/>
<line x1="220.9" y1="660.0" x2="241.5" y2="655.4" stroke="#1c1c1c" stroke-width="1.48" stroke-linecap="butt"/>
<line x1="119.5" y1="657.5" x2="104.5" y2="680.1" stroke="#1c1c1c" stroke-width="1.59" stroke-linecap="butt"/>
<text x="80.8" y="700.0" font-size="17.5" text-anchor="start" textLength="92" lengthAdjust="spacingAndGlyphs" >H05 V V - F</text>
</g>
</svg>
</body></html>
